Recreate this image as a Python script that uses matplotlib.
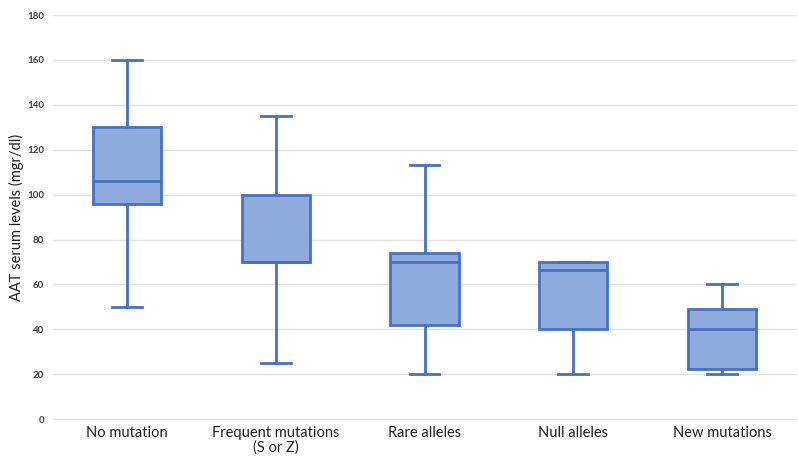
import matplotlib.pyplot as plt

categories = ["No mutation", "Frequent mutations\n(S or Z)", "Rare alleles",
              "Null alleles", "New mutations"]
whisker_low = [50, 25, 20, 20, 20]
q1 = [96, 70, 42, 40, 22.5]
median = [106, 70, 70, 66.5, 40]
q3 = [130, 100, 74, 70, 49]
whisker_high = [160, 135, 113, 70, 60]
y_ticks = [0, 20, 40, 60, 80, 100, 120, 140, 160, 180]

fill = "#8FAADC"
edge = "#4472C4"

plt.rcParams['font.family'] = ['Lato', 'DejaVu Sans']

fig = plt.figure(figsize=(7.98, 4.57), dpi=100)
ax = fig.add_axes([0.066, 0.083, 0.932, 0.884])

stats = []
for i in range(len(categories)):
    stats.append({
        "whislo": whisker_low[i], "q1": q1[i], "med": median[i],
        "q3": q3[i], "whishi": whisker_high[i], "fliers": [],
    })

ax.bxp(stats, positions=range(len(categories)), widths=0.46,
       showfliers=False, patch_artist=True,
       boxprops=dict(facecolor=fill, edgecolor=edge, linewidth=2),
       medianprops=dict(color=edge, linewidth=2),
       whiskerprops=dict(color=edge, linewidth=2),
       capprops=dict(color=edge, linewidth=2),
       capwidths=0.2)

ax.set_xlim(-0.5, len(categories) - 0.5)
ax.set_ylim(0, 180)
ax.set_yticks(y_ticks)
ax.set_yticklabels([str(t) for t in y_ticks], fontsize=7, fontweight="bold",
                   color="#404040")
ax.set_xticks(range(len(categories)))
ax.set_xticklabels(categories, fontsize=10.5, color="#202020", linespacing=1.0)
ax.tick_params(length=0)
ax.tick_params(axis="y", pad=6)
ax.tick_params(axis="x", pad=5)
ax.grid(axis="y", color="#E4E4E4", linewidth=1)
ax.set_axisbelow(True)
for s in ["top", "right", "left"]:
    ax.spines[s].set_visible(False)
ax.spines["bottom"].set_color("#E4E4E4")
ax.set_ylabel("AAT serum levels (mgr/dl)", fontsize=10.5, color="#202020")
ax.yaxis.set_label_coords(-0.038, 0.5)

fig.savefig("out.png", dpi=100)
